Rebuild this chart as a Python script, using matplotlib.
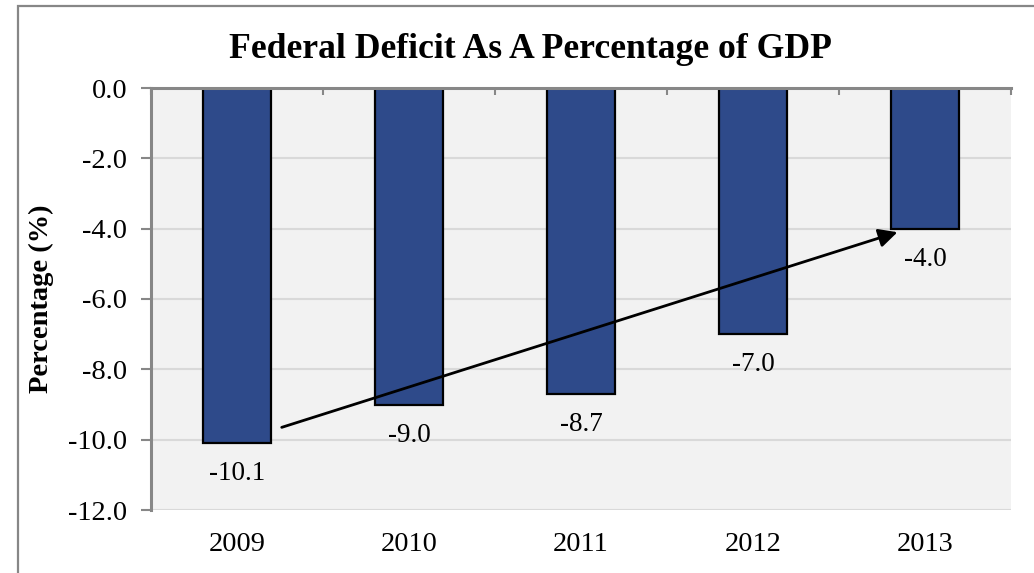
import matplotlib
matplotlib.use("Agg")
import matplotlib.pyplot as plt
from matplotlib.patches import Rectangle

# Data
years = ["2009", "2010", "2011", "2012", "2013"]
deficit_pct = [-10.1, -9.0, -8.7, -7.0, -4.0]
y_ticks = [0.0, -2.0, -4.0, -6.0, -8.0, -10.0, -12.0]

title = "Federal Deficit As A Percentage of GDP"
y_label = "Percentage (%)"

BAR_COLOR = "#2E4A8A"
PLOT_BG = "#F2F2F2"
GRID = "#D9D9D9"
AXIS_GREY = "#878787"

plt.rcParams["font.family"] = ["Liberation Serif", "DejaVu Serif"]

W, H = 1034, 573
fig = plt.figure(figsize=(W / 100, H / 100), dpi=100)
fig.patch.set_facecolor("white")

# chart frame (runs off the right and bottom edges)
fig.add_artist(Rectangle((18 / W, -0.1), 1.2, 1 - 6 / H + 0.1,
                         transform=fig.transFigure, fill=False,
                         edgecolor=AXIS_GREY, linewidth=1.6, zorder=0))

ax = fig.add_axes([151 / W, 1 - 510 / H, (1011 - 151) / W, (510 - 88) / H])
ax.set_facecolor(PLOT_BG)

x = list(range(len(years)))
ax.bar(x, deficit_pct, width=0.4, color=BAR_COLOR, edgecolor="black",
       linewidth=1.6, zorder=3)

ax.set_xlim(-0.5, len(years) - 0.5)
ax.set_ylim(min(y_ticks), max(y_ticks))

# y axis
ax.set_yticks(y_ticks)
ax.set_yticklabels([f"{v:.1f}" for v in y_ticks])
ax.tick_params(axis="y", direction="out", length=7, width=1.5,
               color=AXIS_GREY, labelsize=20.5, pad=10)
ax.yaxis.grid(True, color=GRID, linewidth=1.5, zorder=0)
ax.set_axisbelow(True)

# x axis: labels at the bottom, category line at zero
ax.set_xticks(x)
ax.set_xticklabels(years)
ax.tick_params(axis="x", which="major", length=0, labelsize=20.5, pad=16)
ax.set_xticks([i - 0.5 for i in range(len(years) + 1)], minor=True)
ax.tick_params(axis="x", which="minor", bottom=False, top=True,
               direction="in", length=5, width=1.5, color=AXIS_GREY)

for side in ("right", "bottom"):
    ax.spines[side].set_visible(False)
for side in ("left", "top"):
    ax.spines[side].set_color(AXIS_GREY)
    ax.spines[side].set_linewidth(2.2)
    ax.spines[side].set_zorder(4)

# value labels below each bar
for xi, v in zip(x, deficit_pct):
    ax.annotate(f"{v:.1f}", xy=(xi, v), xytext=(0, -22),
                textcoords="offset points", ha="center", va="center",
                fontsize=19.5, color="black", zorder=5)

# trend arrow from the 2009 bar to the 2013 bar
ax.annotate("", xy=(x[-1] - 0.16, deficit_pct[-1] - 0.1),
            xytext=(x[0] + 0.26, deficit_pct[0] + 0.45),
            arrowprops=dict(arrowstyle="-|>", color="black", lw=2,
                            mutation_scale=28, shrinkA=0, shrinkB=0),
            zorder=6)

ax.set_ylabel(y_label, fontsize=20.5, fontweight="bold")
ax.yaxis.set_label_coords(-(151 - 54) / (1011 - 151), 0.5)

fig.text(530 / W, 1 - 50 / H, title, ha="center", va="center",
         fontsize=25.7, fontweight="bold")

fig.savefig("out.png", dpi=100)
